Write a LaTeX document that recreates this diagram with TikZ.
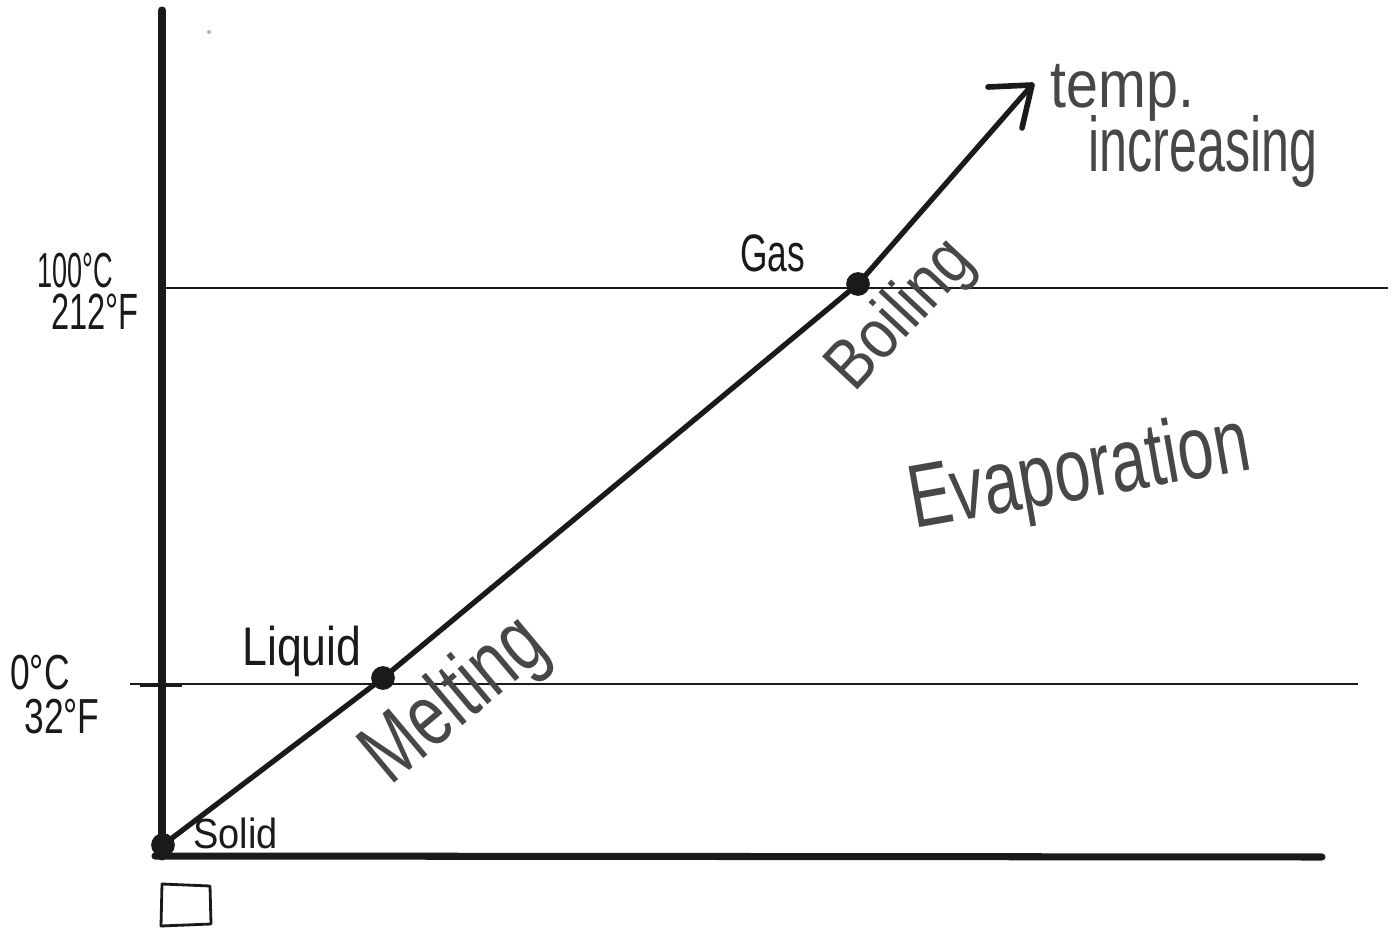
\documentclass[tikz,border=0pt]{standalone}
\usepackage{fontspec}
\usepackage{graphicx}
\setmainfont{Liberation Sans}
\definecolor{ink}{HTML}{1A1A1A}
\definecolor{pencil}{HTML}{474747}
\newcommand{\hl}[3]{\scalebox{#1}[1]{\fontsize{#2}{#2}\selectfont #3}}
\begin{document}
\begin{tikzpicture}[x=0.02cm,y=-0.02cm,
  axis/.style={line width=4pt, draw=ink, line cap=round},
  guide/.style={line width=1.2pt, draw=ink},
  curve/.style={line width=3pt, draw=ink, line join=round, line cap=round},
  dot/.style={circle, fill=ink, inner sep=0pt, minimum size=13.5pt},
  lblk/.style={text=ink, inner sep=0pt},
  lblg/.style={text=pencil, inner sep=0pt}]
\useasboundingbox (0,0) rectangle (1396,935);
% axes
\coordinate (ytop) at (162,10);
\coordinate (orig) at (162,857);
\coordinate (xstart) at (155,856);
\coordinate (xend) at (1322,857);
\draw[axis] (ytop) -- (orig);
\draw[axis] (xstart) -- (xend);
% guide lines
\coordinate (bl) at (165,288);
\coordinate (br) at (1388,288);
\coordinate (ml) at (130,684);
\coordinate (mr) at (1358,684);
\coordinate (tl) at (140,685);
\coordinate (tr) at (182,685);
\draw[guide] (bl) -- (br);
\draw[guide] (ml) -- (mr);
\draw[line width=2pt, draw=ink] (tl) -- (tr);
% stray dot
\fill[gray!60] (209,32) circle (2);
% phase points
\node[dot] (solid) at (163,845) {};
\node[dot] (liquid) at (383,678) {};
\node[dot] (gas) at (858,284) {};
\coordinate (tip) at (1032,85);
\coordinate (armA) at (988,87);
\coordinate (armB) at (1022,128);
\draw[curve] (solid.center) -- (liquid.center) -- (gas.center) -- (tip);
\draw[curve, line width=3.2pt] (armA) -- (tip) -- (armB);
% small box
\draw[line width=1.6pt, draw=ink, line join=round] (162,884) -- (161,926) -- (211,924) -- (210,886) -- cycle;
% labels
\node[lblk] (c100) at (75,271) {\hl{0.55}{28pt}{100°C}};
\node[lblk] (f212) at (95,312) {\hl{0.64}{29pt}{212°F}};
\node[lblk] (c0) at (40,673) {\hl{0.72}{28pt}{0°C}};
\node[lblk] (f32) at (62,717) {\hl{0.72}{28pt}{32°F}};
\node[lblk, anchor=base west] (liq) at (242,665) {\hl{0.82}{31pt}{Liquid}};
\node[lblk, anchor=base west] (sol) at (193,848) {\hl{0.9}{24pt}{Solid}};
\node[lblk, anchor=base west] (gasl) at (740,272) {\hl{0.67}{30pt}{Gas}};
\node[lblg, rotate=40] (melt) at (456,702) {\hl{0.74}{50pt}{Melting}};
\node[lblg, rotate=47] (boil) at (902,316) {\hl{0.85}{40pt}{Boiling}};
\node[lblg, rotate=10] (evap) at (1080,476) {\hl{0.72}{51pt}{Evaporation}};
\node[lblg, anchor=base west] (temp) at (1050,108) {\hl{0.86}{38pt}{temp.}};
\node[lblg, anchor=base west] (incr) at (1088,172) {\hl{0.65}{44pt}{increasing}};
\end{tikzpicture}
\end{document}
